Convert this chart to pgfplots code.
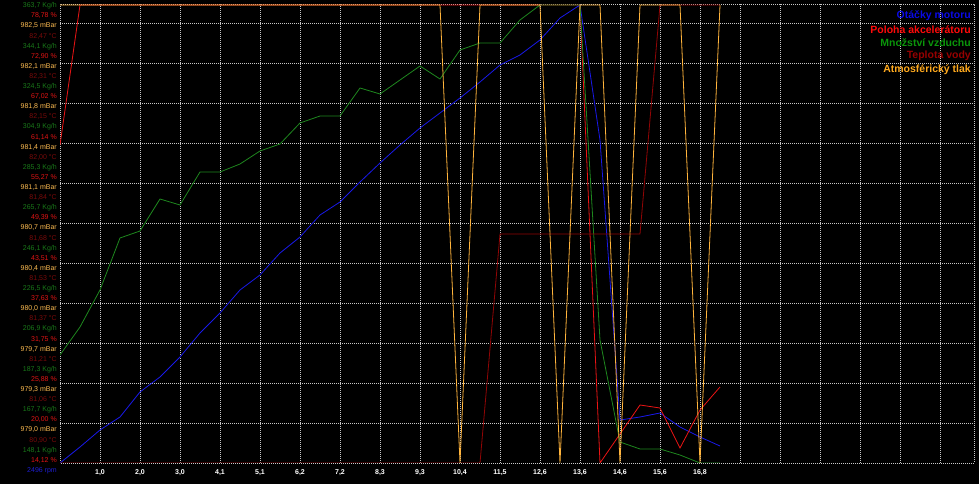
\documentclass[border=0pt]{standalone}
\usepackage{fontspec}
\setmainfont{Liberation Sans}
\usepackage{pgfplots}
\pgfplotsset{compat=1.18}
\definecolor{gridc}{RGB}{200,200,200}
\definecolor{lblue}{RGB}{25,25,235}
\definecolor{lred}{RGB}{235,20,20}
\definecolor{lgreen}{RGB}{30,135,30}
\definecolor{ldred}{RGB}{145,5,5}
\definecolor{lorange}{RGB}{255,180,60}
\definecolor{tgreen}{RGB}{25,120,25}
\definecolor{tred}{RGB}{225,20,20}
\definecolor{torange}{RGB}{250,185,80}
\definecolor{tdred}{RGB}{120,10,10}
\definecolor{tblue}{RGB}{30,30,210}
\definecolor{gblue}{RGB}{10,10,230}
\definecolor{gred}{RGB}{255,10,10}
\definecolor{ggreen}{RGB}{10,150,10}
\definecolor{gdred}{RGB}{150,0,0}
\definecolor{gorange}{RGB}{255,170,30}
\begin{document}
\begin{tikzpicture}
\fill[black] (0,0) rectangle (979pt,484pt);
\begin{axis}[
  at={(60pt,21pt)}, anchor=south west,
  scale only axis, width=914pt, height=459pt,
  xmin=0, xmax=22.85, ymin=0, ymax=11.475,
  axis line style={gridc, line width=0.7pt, dash pattern=on 1pt off 1pt},
  grid=major,
  major grid style={gridc, line width=0.7pt, dash pattern=on 1pt off 1pt},
  major tick length=0pt,
  xtick={1,...,22}, ytick={1,...,11},
  yticklabel={},
  xticklabels={{1,0},{2,0},{3,0},{4,1},{5,1},{6,2},{7,2},{8,3},{9,3},{10,4},{11,5},{12,6},{13,6},{14,6},{15,6},{16,8},{},{},{},{},{},{}},
  x tick label style={font=\bfseries\fontsize{7}{8}\selectfont, text=white, inner sep=0pt, yshift=-6pt},
  every axis plot/.append style={line width=0.8pt, mark=none},
]
\addplot[lblue] coordinates {
(0,0) (0.5,0.4) (1,0.825) (1.5,1.15) (2,1.775) (2.5,2.15) (3,2.65) (3.5,3.25)
(4,3.75) (4.5,4.325) (5,4.7) (5.5,5.25) (6,5.65) (6.5,6.2) (7,6.525) (7.5,7.025)
(8,7.5) (8.5,7.95) (9,8.375) (9.5,8.75) (10,9.125) (10.5,9.525) (11,9.95) (11.5,10.2)
(12,10.575) (12.5,11.125) (13,11.45) (13.5,8.075) (14,1.075) (14.5,1.15) (15,1.25)
(15.5,0.9) (16,0.65) (16.5,0.425)};
\addplot[lred] coordinates {
(0,7.95) (0.5,11.45) (1,11.45) (13,11.45) (13.5,0) (14,0.725) (14.5,1.45) (15,1.375)
(15.5,0.375) (16,1.325) (16.5,1.9)};
\addplot[lgreen] coordinates {
(0,2.7) (0.5,3.4) (1,4.325) (1.5,5.625) (2,5.8) (2.5,6.6) (3,6.45) (3.5,7.275)
(4,7.275) (4.5,7.475) (5,7.8) (5.5,7.975) (6,8.5) (6.5,8.675) (7,8.675) (7.5,9.375)
(8,9.225) (8.5,9.575) (9,9.925) (9.5,9.6) (10,10.325) (10.5,10.5) (11,10.5) (11.5,11.075)
(12,11.45) (12.5,11.45) (13,11.45) (13.5,3.075) (14,0.525) (14.5,0.35) (15,0.35)
(15.5,0.2) (16,0) (16.5,0)};
\addplot[ldred] coordinates {
(0,0) (10.5,0) (11,5.725) (14.5,5.725) (15,11.45) (16.5,11.45)};
\addplot[lorange] coordinates {
(0,11.45) (9.5,11.45) (10,0) (10.5,11.45) (12,11.45) (12.5,0) (13,11.45) (13.5,11.45)
(14,0) (14.5,11.45) (15.5,11.45) (16,0) (16.5,11.45)};
\end{axis}
% left scale labels
\tikzset{lab/.style={anchor=east, inner sep=0pt, font=\fontsize{7}{7.5}\selectfont}}
\foreach \a/\b [count=\j from 0] in {363/7,344/1,324/5,304/9,285/3,265/7,246/1,226/5,206/9,187/3,167/7,148/1} {
  \pgfmathsetmacro\yy{484-(5.8+10.1*4*\j)}
  \node[lab, text=tgreen] at (57pt,\yy pt) {\a,\b\ Kg/h};
}
\foreach \a/\b [count=\j from 0] in {78/78,72/90,67/02,61/14,55/27,49/39,43/51,37/63,31/75,25/88,20/00,14/12} {
  \pgfmathsetmacro\yy{484-(5.8+10.1*(4*\j+1))}
  \node[lab, text=tred] at (57pt,\yy pt) {\a,\b\ \%};
}
\foreach \a/\b [count=\j from 0] in {982/5,982/1,981/8,981/4,981/1,980/7,980/4,980/0,979/7,979/3,979/0} {
  \pgfmathsetmacro\yy{484-(5.8+10.1*(4*\j+2))}
  \node[lab, text=torange] at (57pt,\yy pt) {\a,\b\ mBar};
}
\foreach \a/\b [count=\j from 0] in {82/47,82/31,82/15,82/00,81/84,81/68,81/53,81/37,81/21,81/06,80/90} {
  \pgfmathsetmacro\yy{484-(5.8+10.1*(4*\j+3))}
  \node[lab, text=tdred] at (57pt,\yy pt) {\a,\b\ °C};
}
\node[lab, text=tblue] at (57pt,13.6pt) {2496 rpm};
% legend
\tikzset{leg/.style={anchor=east, inner sep=0pt, font=\bfseries\fontsize{10.5}{11}\selectfont}}
\node[leg, text=gblue] at (971pt,468.3pt) {Otáčky motoru};
\node[leg, text=gred] at (971pt,454pt) {Poloha akcelerátoru};
\node[leg, text=ggreen] at (971pt,441.3pt) {Množství vzduchu};
\node[leg, text=gdred] at (971pt,428pt) {Teplota vody};
\node[leg, text=gorange] at (971pt,414.7pt) {Atmosférický tlak};
\end{tikzpicture}
\end{document}
